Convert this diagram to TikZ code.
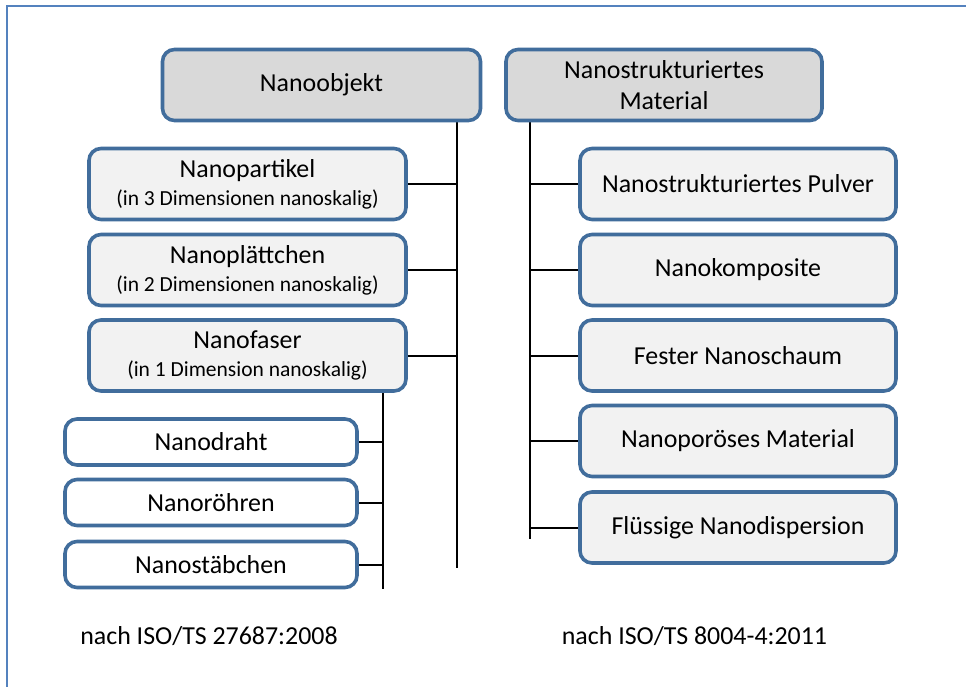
\documentclass[tikz,border=0pt]{standalone}
\usepackage{fontspec}
\setmainfont{Carlito}
\usetikzlibrary{backgrounds}
\definecolor{boxline}{RGB}{65,109,156}
\definecolor{framecol}{RGB}{84,130,190}
\definecolor{headfill}{RGB}{217,217,217}
\definecolor{itemfill}{RGB}{242,242,242}
\begin{document}
\begin{tikzpicture}[x=1pt,y=-1pt,
  basebox/.style={rectangle,rounded corners=12pt,draw=boxline,line width=3.6pt,
    align=center,inner sep=0pt,font=\fontsize{25.9}{31}\selectfont},
  headbox/.style={basebox,fill=headfill,minimum width=318pt,minimum height=71pt},
  itembox/.style={basebox,fill=itemfill,minimum width=317pt,minimum height=71pt},
  subbox/.style={basebox,fill=white,minimum width=292pt,minimum height=46pt},
  link/.style={draw=black,line width=2pt},
  note/.style={font=\fontsize{25.9}{30}\selectfont,inner sep=0pt}]
\useasboundingbox (0,0) rectangle (966,687);

% left tree
\node[headbox] (objekt) at (321.5,85) {Nanoobjekt};
\node[itembox] (partikel) at (247.5,184)
  {Nanopartikel\\[-3pt]{\fontsize{21.5}{28}\selectfont (in 3 Dimensionen nanoskalig)}};
\node[itembox] (plaettchen) at (247.5,270)
  {Nanoplättchen\\[-3pt]{\fontsize{21.5}{28}\selectfont (in 2 Dimensionen nanoskalig)}};
\node[itembox] (faser) at (247.5,355.5)
  {Nanofaser\\[-3pt]{\fontsize{21.5}{28}\selectfont (in 1 Dimension nanoskalig)}};
\node[subbox] (draht) at (211,442) {Nanodraht};
\node[subbox] (roehren) at (211,502.5) {Nanoröhren};
\node[subbox] (staebchen) at (211,564.5) {Nanostäbchen};

% right tree
\node[headbox,minimum width=316pt] (material) at (664,85)
  {Nanostrukturiertes\\Material};
\node[itembox,minimum width=316pt] (pulver) at (738,184) {Nanostrukturiertes Pulver};
\node[itembox,minimum width=316pt] (komposite) at (738,270) {Nanokomposite};
\node[itembox,minimum width=316pt] (schaum) at (738,355.5) {Fester Nanoschaum};
\node[itembox,minimum width=316pt] (poroes) at (738,441) {Nanoporöses Material};
\node[itembox,minimum width=316pt] (dispersion) at (738,527.5) {Flüssige Nanodispersion};

% trunk ends
\coordinate (objEnd) at (457,568);
\coordinate (fasEnd) at (383,589);
\coordinate (matEnd) at (530,539);

\begin{scope}[on background layer]
  % page and outer frame (only top and left edges fall inside the page)
  \fill[white] (0,0) rectangle (966,687);
  \draw[framecol,line width=2.4pt] (7,690) -- (7,6.2) -- (970,6.2);
  % connectors
  \draw[link] (objekt.south -| objEnd) -- (objEnd);
  \draw[link] (partikel.east) -- (partikel.east -| objEnd);
  \draw[link] (plaettchen.east) -- (plaettchen.east -| objEnd);
  \draw[link] (faser.east) -- (faser.east -| objEnd);
  \draw[link] (faser.south -| fasEnd) -- (fasEnd);
  \draw[link] (draht.east) -- (draht.east -| fasEnd);
  \draw[link] (roehren.east) -- (roehren.east -| fasEnd);
  \draw[link] (staebchen.east) -- (staebchen.east -| fasEnd);
  \draw[link] (material.south -| matEnd) -- (matEnd);
  \draw[link] (matEnd |- pulver.west) -- (pulver.west);
  \draw[link] (matEnd |- komposite.west) -- (komposite.west);
  \draw[link] (matEnd |- schaum.west) -- (schaum.west);
  \draw[link] (matEnd |- poroes.west) -- (poroes.west);
  \draw[link] (matEnd |- dispersion.west) -- (dispersion.west);
\end{scope}

% sources
\node[note] (isoa) at (209,636) {nach ISO/TS 27687:2008};
\node[note] (isob) at (694.5,636) {nach ISO/TS 8004-4:2011};
\end{tikzpicture}
\end{document}
